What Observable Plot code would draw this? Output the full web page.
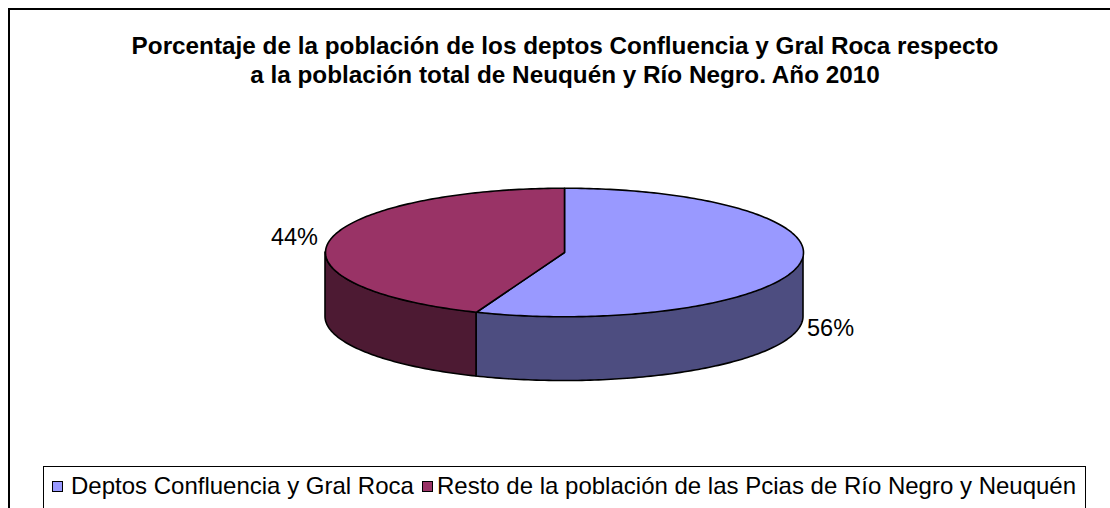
<!DOCTYPE html>
<html>
<head>
<meta charset="utf-8">
<script src="https://cdn.jsdelivr.net/npm/d3@7"></script>
<script src="https://cdn.jsdelivr.net/npm/@observablehq/plot@0.6"></script>
<style>
  html, body { margin: 0; padding: 0; background: #fff; width: 1110px; height: 508px; overflow: hidden;
    font-family: Arial, "Liberation Sans", sans-serif; }
  #frame { position: absolute; left: 8px; top: 8px; width: 1200px; height: 600px;
    border-left: 2px solid #000; border-top: 2px solid #000; }
  #chart { position: absolute; left: 0; top: 0; }
  #title { position: absolute; left: 0; top: 31px; width: 1130px; text-align: center;
    font-weight: bold; font-size: 24.3px; line-height: 29px; color: #000; white-space: nowrap; }
  #legend { position: absolute; left: 43px; top: 466px; width: 1041px; height: 80px;
    border: 1px solid #000; background: #fff; font-size: 24px; color: #000; white-space: nowrap; }
  .sw { position: absolute; top: 14px; width: 9px; height: 9px; border: 1px solid #000; }
  .tx { position: absolute; top: 5px; line-height: 28px; }
</style>
</head>
<body>
<div id="frame"></div>
<div id="chart"></div>
<div id="title"></div>
<div id="legend"></div>
<script>
// ---- data ----
const titleLines = [
  "Porcentaje de la población de los deptos Confluencia y Gral Roca respecto",
  "a la población total de Neuquén y Río Negro. Año 2010"
];
const categories = ["Deptos Confluencia y Gral Roca", "Resto de la población de las Pcias de Río Negro y Neuquén"];
const values = [56, 44];
const labels = ["56%", "44%"];
const topColors = ["#9999FF", "#993366"];
const sideColors = ["#4D4D80", "#4D1A33"];

// ---- geometry (pie proportions) ----
const tilt = 64 / 238;   // vertical squash of the top ellipse
const depth = 64 / 238;  // thickness of the pie
const total = d3.sum(values);
const rad = Math.PI / 180;

let start = -90;
const slices = values.map((v, i) => {
  const a0 = start, a1 = start + v / total * 360;
  start = a1;
  return {i, cat: categories[i], a0, a1, mid: (a0 + a1) / 2};
});

function arcPts(a0, a1) {
  const n = Math.max(2, Math.ceil(Math.abs(a1 - a0)));
  return d3.range(n + 1).map(k => a0 + (a1 - a0) * k / n);
}

const marks = [];
// side faces (front half only, 0..180deg)
slices.forEach(s => {
  const b0 = Math.max(s.a0, 0), b1 = Math.min(s.a1, 180);
  if (b1 > b0) {
    const side = arcPts(b0, b1).map(a => ({
      x: Math.cos(a * rad),
      y1: Math.sin(a * rad) * tilt,
      y2: Math.sin(a * rad) * tilt + depth
    }));
    marks.push(Plot.area(side, {x1: "x", y1: "y1", y2: "y2", fill: sideColors[s.i],
      stroke: "#000", strokeWidth: 1.6, curve: "linear"}));
  }
});
// top faces
slices.forEach(s => {
  const top = [{x: 0, y: 0}, ...arcPts(s.a0, s.a1).map(a => ({x: Math.cos(a * rad), y: Math.sin(a * rad) * tilt})), {x: 0, y: 0}];
  marks.push(Plot.line(top, {x: "x", y: "y", fill: topColors[s.i], stroke: "#000",
    strokeWidth: 1.6, curve: "linear", strokeLinejoin: "round"}));
});
// labels
slices.forEach(s => {
  const c = Math.cos(s.mid * rad), sn = Math.sin(s.mid * rad);
  const pos = [{x: c * 1.05, y: sn * tilt + (sn > 0 ? depth : 0), t: labels[s.i]}];
  marks.push(Plot.text(pos, {x: "x", y: "y", text: "t", textAnchor: c > 0 ? "start" : "end",
    dy: sn > 0 ? 0 : -3, dx: c > 0 ? -4 : 0, fontSize: 23.5, fill: "#000", fontFamily: "Arial, 'Liberation Sans', sans-serif"}));
});

const W = 1110, H = 508, cx = 564, cy = 252, R = 239;
const chart = Plot.plot({
  width: W, height: H, margin: 0,
  x: {domain: [-cx / R, (W - cx) / R], range: [0, W], axis: null},
  y: {domain: [-cy / R, (H - cy) / R], range: [0, H], axis: null},
  marks
});
chart.style.background = "transparent";
document.getElementById("chart").appendChild(chart);

// title
const t = document.getElementById("title");
titleLines.forEach(l => { const d = document.createElement("div"); d.textContent = l; t.appendChild(d); });

// legend
const lg = document.getElementById("legend");
const swLefts = [8, 378], txLefts = [27, 393];
categories.forEach((c, i) => {
  const sw = document.createElement("span");
  sw.className = "sw"; sw.style.background = topColors[i]; sw.style.left = swLefts[i] + "px";
  const tx = document.createElement("span");
  tx.className = "tx"; tx.style.left = txLefts[i] + "px"; tx.textContent = c;
  lg.appendChild(sw); lg.appendChild(tx);
});
</script>
</body>
</html>
